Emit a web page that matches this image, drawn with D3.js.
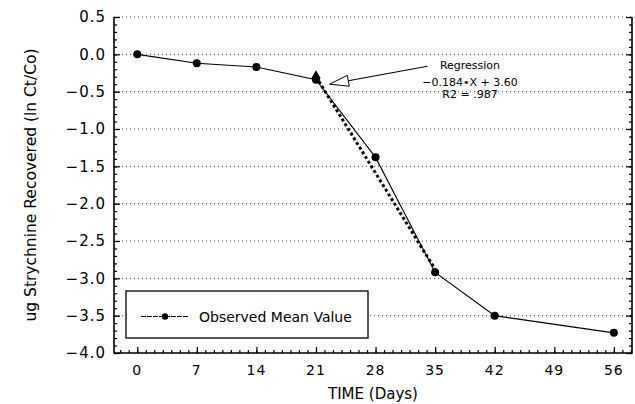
<!DOCTYPE html>
<html>
<head>
<meta charset="utf-8">
<script src="https://cdn.jsdelivr.net/npm/d3@7"></script>
<style>
  body { margin: 0; background: #fff; }
  text { font-family: "DejaVu Sans", sans-serif; fill: #000; }
</style>
</head>
<body>
<div id="chart"></div>
<script>
// observed means
var days = [0, 7, 14, 21, 28, 35, 42, 56];
var lnRatio = [0.0, -0.12, -0.17, -0.34, -1.38, -2.92, -3.50, -3.73];
// regression segment (end points)
var regDays = [21, 35];
var regVals = [-0.30, -2.88];
var xTicks = [0, 7, 14, 21, 28, 35, 42, 49, 56];
var yTicks = [-4.0, -3.5, -3.0, -2.5, -2.0, -1.5, -1.0, -0.5, 0.0, 0.5];
var regText = ["Regression", "\u22120.184\u2022X + 3.60", "R2 = .987"];

var w = 635, h = 404,
  pLeft = 114, pRight = 632, pTop = 17, pBottom = 353;

var svg = d3.select("#chart").append("svg")
  .attr("width", w)
  .attr("height", h);

var x = d3.scaleLinear().domain([-2.73, 58.13]).range([pLeft, pRight]);
var y = d3.scaleLinear().domain([-4, 0.5]).range([pBottom, pTop]);

// dotted grid
svg.append("g")
  .selectAll("line")
  .data(yTicks.filter(function(d){ return d > -4; }))
  .enter().append("line")
    .attr("x1", pLeft)
    .attr("x2", pRight)
    .attr("y1", function(d){ return y(d); })
    .attr("y2", function(d){ return y(d); })
    .attr("stroke", "#444")
    .attr("stroke-width", 1)
    .attr("stroke-dasharray", "1,3");

// axes, ticks inward
var minorY = d3.range(-40, 6).map(function(d){ return d / 10; });
var minorX = d3.range(-2, 59);

function noDomain(g){ g.select(".domain").remove(); }

svg.append("g")
  .attr("transform", "translate(" + pLeft + ",0)")
  .call(d3.axisRight(y).tickValues(minorY).tickSize(3).tickFormat(""))
  .call(noDomain);
svg.append("g")
  .attr("transform", "translate(" + pLeft + ",0)")
  .call(d3.axisRight(y).tickValues(yTicks).tickSize(6).tickFormat(""))
  .call(noDomain);

svg.append("g")
  .attr("transform", "translate(" + pRight + ",0)")
  .call(d3.axisLeft(y).tickValues(minorY).tickSize(3).tickFormat(""))
  .call(noDomain);
svg.append("g")
  .attr("transform", "translate(" + pRight + ",0)")
  .call(d3.axisLeft(y).tickValues(yTicks).tickSize(6).tickFormat(""))
  .call(noDomain);

svg.append("g")
  .attr("transform", "translate(0," + pBottom + ")")
  .call(d3.axisTop(x).tickValues(minorX).tickSize(3).tickFormat(""))
  .call(noDomain);
svg.append("g")
  .attr("transform", "translate(0," + pBottom + ")")
  .call(d3.axisTop(x).tickValues(xTicks).tickSize(6).tickFormat(""))
  .call(noDomain);

svg.selectAll(".tick line").attr("stroke", "#000").attr("stroke-width", 1.2);

// frame: left, bottom, right
svg.append("path")
  .attr("d", "M" + pLeft + "," + pTop + "V" + pBottom + "H" + pRight + "V" + pTop)
  .attr("fill", "none")
  .attr("stroke", "#000")
  .attr("stroke-width", 1.6);

// tick labels
var fmt = d3.format(".1f");
svg.append("g")
  .selectAll("text")
  .data(yTicks)
  .enter().append("text")
    .attr("x", pLeft - 8)
    .attr("y", function(d){ return y(d); })
    .attr("dy", "0.36em")
    .attr("text-anchor", "end")
    .style("font-size", "15px")
    .style("letter-spacing", "1px")
    .text(function(d){ return fmt(d); });

svg.append("g")
  .selectAll("text")
  .data(xTicks)
  .enter().append("text")
    .attr("x", function(d){ return x(d); })
    .attr("y", 375)
    .attr("text-anchor", "middle")
    .style("font-size", "14px")
    .style("letter-spacing", "1px")
    .text(function(d){ return d; });

// axis titles
svg.append("text")
  .attr("transform", "translate(36," + ((pTop + pBottom) / 2) + ") rotate(-90)")
  .attr("text-anchor", "middle")
  .style("font-size", "15.5px")
  .text("ug Strychnine Recovered (ln Ct/Co)");

svg.append("text")
  .attr("x", 373)
  .attr("y", 399)
  .attr("text-anchor", "middle")
  .style("font-size", "15px")
  .text("TIME (Days)");

// data line
var pts = days.map(function(d, i){ return [d, lnRatio[i]]; });
var line = d3.line()
  .x(function(d){ return x(d[0]); })
  .y(function(d){ return y(d[1]); });

svg.append("path")
  .datum(pts)
  .attr("d", line)
  .attr("fill", "none")
  .attr("stroke", "#000")
  .attr("stroke-width", 1.1);

// regression segment
var reg = regDays.map(function(d, i){ return [d, regVals[i]]; });
svg.append("path")
  .datum(reg)
  .attr("d", line)
  .attr("fill", "none")
  .attr("stroke", "#000")
  .attr("stroke-width", 3)
  .attr("stroke-dasharray", "3,2.5");

svg.append("path")
  .attr("d", d3.symbol().type(d3.symbolTriangle).size(40))
  .attr("transform", "translate(" + x(reg[0][0]) + "," + (y(reg[0][1]) - 1) + ")")
  .attr("fill", "#000");

svg.append("g")
  .selectAll("circle")
  .data(pts)
  .enter().append("circle")
    .attr("cx", function(d){ return x(d[0]); })
    .attr("cy", function(d){ return y(d[1]); })
    .attr("r", 4)
    .attr("fill", "#000");

// regression annotation
var tipX = x(22.6), tipY = y(-0.40),
  tailX = x(34.1), tailY = y(-0.16);
var ang = Math.atan2(tailY - tipY, tailX - tipX),
  hl = 19, hw = 5.5;
var bx = tipX + hl * Math.cos(ang), by = tipY + hl * Math.sin(ang);
svg.append("line")
  .attr("x1", bx).attr("y1", by)
  .attr("x2", tailX).attr("y2", tailY)
  .attr("stroke", "#000")
  .attr("stroke-width", 1.1);
svg.append("polygon")
  .attr("points", [
    [tipX, tipY],
    [bx - hw * Math.sin(ang), by + hw * Math.cos(ang)],
    [bx + hw * Math.sin(ang), by - hw * Math.cos(ang)]
  ].map(function(p){ return p.join(","); }).join(" "))
  .attr("fill", "#fff")
  .attr("stroke", "#000")
  .attr("stroke-width", 1);

var annY = [69, 85.5, 98];
svg.append("g")
  .selectAll("text")
  .data(regText)
  .enter().append("text")
    .attr("x", 470)
    .attr("y", function(d, i){ return annY[i]; })
    .attr("text-anchor", "middle")
    .style("font-size", "11px")
    .text(function(d){ return d; });

// legend
var lg = svg.append("g");
lg.append("rect")
  .attr("x", 126).attr("y", 291)
  .attr("width", 242).attr("height", 47)
  .attr("fill", "#fff")
  .attr("stroke", "#000")
  .attr("stroke-width", 1.3);
lg.append("line")
  .attr("x1", 141).attr("x2", 188)
  .attr("y1", 316.5).attr("y2", 316.5)
  .attr("stroke", "#000")
  .attr("stroke-width", 1.1)
  .attr("stroke-dasharray", "5,1");
lg.append("circle")
  .attr("cx", 165).attr("cy", 316.5).attr("r", 3.2)
  .attr("fill", "#000");
lg.append("text")
  .attr("x", 199).attr("y", 321.5)
  .style("font-size", "14px")
  .text("Observed Mean Value");
</script>
</body>
</html>
